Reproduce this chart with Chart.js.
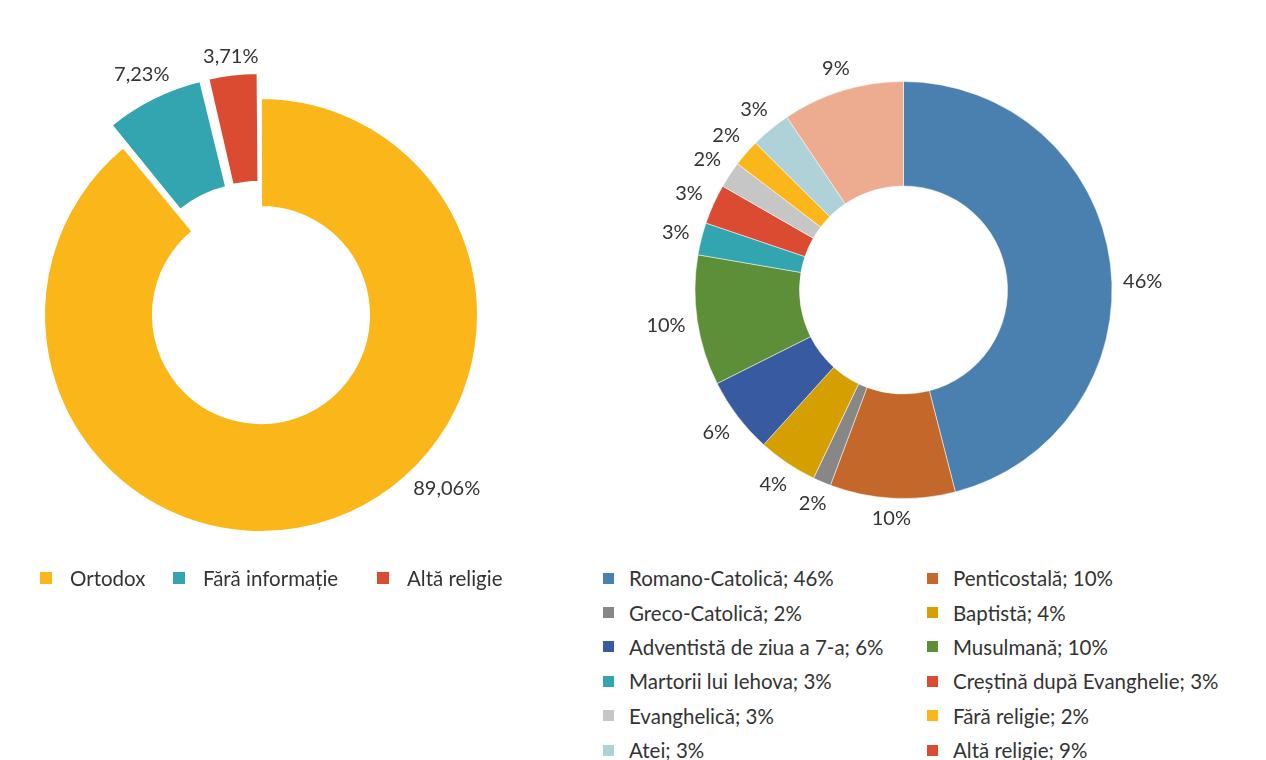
<!DOCTYPE html>
<html>
<head>
<meta charset="utf-8">
<script src="https://cdn.jsdelivr.net/npm/chart.js@4"></script>
<style>
  html, body { margin: 0; padding: 0; background: #fff; overflow: hidden; }
  body { width: 1266px; height: 760px; position: relative; font-family: Lato, "Open Sans", sans-serif; color: #333; }
  .box { position: absolute; }
  .legend { position: absolute; font-size: 20.5px; }
  .item { display: flex; align-items: center; white-space: nowrap; }
  .sw { width: 12px; height: 12px; margin-right: 18px; flex: none; }
  #legend-left { left: 40px; top: 566px; display: flex; }
  #legend-left .item:nth-child(1) { width: 133px; }
  #legend-left .item:nth-child(2) { width: 204px; }
  #legend-right { left: 603px; top: 561px; display: grid; grid-template-columns: 324px auto; grid-auto-rows: 34.4px; }
  #legend-right .sw { width: 11px; height: 11px; margin-right: 15px; }
</style>
</head>
<body>
<div class="box" style="left:0;top:0;width:560px;height:600px"><canvas id="left"></canvas></div>
<div class="box" style="left:600px;top:0;width:620px;height:560px"><canvas id="right"></canvas></div>
<div class="legend" id="legend-left"></div>
<div class="legend" id="legend-right"></div>
<script>
// left chart data
const leftCategories = ['Ortodox', 'Fără informație', 'Altă religie'];
const leftValues = [89.06, 7.23, 3.71];
const leftColors = ['#FBB71A', '#33A5B0', '#DB4B32'];

// right chart data
const rightCategories = ['Romano-Catolică', 'Penticostală', 'Greco-Catolică', 'Baptistă',
  'Adventistă de ziua a 7-a', 'Musulmană', 'Martorii lui Iehova', 'Creștină după Evanghelie',
  'Evanghelică', 'Fără religie', 'Atei', 'Altă religie'];
const rightValues = [46.0, 9.7, 1.4, 4.6, 5.9, 10.1, 2.5, 3.1, 2.05, 2.1, 3.1, 9.45];
const rightSliceLabels = ['46%', '10%', '2%', '4%', '6%', '10%', '3%', '3%', '2%', '2%', '3%', '9%'];
const rightLegendPct = [46, 10, 2, 4, 6, 10, 3, 3, 3, 2, 3, 9];
const rightColors = ['#4A80AF', '#C4672A', '#878787', '#D59F00', '#385AA0', '#5D8E38',
  '#33A5B0', '#DB4B32', '#C6C6C6', '#FBB71A', '#AFD2D8', '#EDAB90'];
// the legend marks the last entry in red, not in the slice colour
const rightLegendColors = rightColors.slice(0, 11).concat(['#DB4B32']);

const FONT = 'Lato, "Open Sans", sans-serif';

// draws the value labels outside each arc
const outsideLabels = {
  id: 'outsideLabels',
  afterDatasetsDraw(chart, args, opts) {
    const ctx = chart.ctx;
    const meta = chart.getDatasetMeta(0);
    ctx.save();
    ctx.font = opts.font;
    ctx.fillStyle = opts.color;
    ctx.textAlign = 'center';
    ctx.textBaseline = 'middle';
    meta.data.forEach((arc, i) => {
      const p = arc.getProps(['x', 'y', 'startAngle', 'endAngle', 'outerRadius', 'circumference'], true);
      let a = (p.startAngle + p.endAngle) / 2;
      if (opts.angles && opts.angles[i] !== undefined) {
        a = (opts.angles[i] - 90) * Math.PI / 180;
      }
      const text = opts.texts[i];
      const w = ctx.measureText(text).width;
      const h = opts.height;
      // chart.js moves an offset arc by offset/4 and grows it by offset/4 * fix
      const off = (arc.options.offset || 0) / 4;
      const fix = 1 - Math.sin(Math.min(Math.PI, p.circumference || 0));
      const shift = off * (1 + fix);
      const d = p.outerRadius + shift + opts.gap + Math.abs(Math.cos(a)) * w / 2 + Math.abs(Math.sin(a)) * h / 2;
      ctx.fillText(text, p.x + Math.cos(a) * d, p.y + Math.sin(a) * d);
    });
    ctx.restore();
  }
};

new Chart(document.getElementById('left'), {
  type: 'doughnut',
  data: {
    labels: leftCategories,
    datasets: [{
      data: leftValues,
      backgroundColor: leftColors,
      borderColor: '#fff',
      borderWidth: 2,
      offset: [0, 64, 57]
    }]
  },
  options: {
    responsive: true,
    maintainAspectRatio: false,
    animation: false,
    radius: 217,
    cutout: '49.8%',
    layout: { padding: { left: 0, right: 38, top: 30, bottom: 0 } },
    plugins: {
      legend: { display: false },
      tooltip: { enabled: false },
      outsideLabels: {
        texts: leftValues.map(v => v.toFixed(2).replace('.', ',') + '%'),
        font: '20px ' + FONT,
        color: '#333',
        height: 16,
        gap: 7,
        angles: { 0: 133 }
      }
    }
  },
  plugins: [outsideLabels]
});

new Chart(document.getElementById('right'), {
  type: 'doughnut',
  data: {
    labels: rightCategories,
    datasets: [{
      data: rightValues,
      backgroundColor: rightColors,
      borderColor: '#fff',
      borderWidth: 0.5
    }]
  },
  options: {
    responsive: true,
    maintainAspectRatio: false,
    animation: false,
    radius: 208.5,
    cutout: '49.9%',
    layout: { padding: { left: 0, right: 13, top: 20, bottom: 0 } },
    plugins: {
      legend: { display: false },
      tooltip: { enabled: false },
      outsideLabels: {
        texts: rightSliceLabels,
        font: '20px ' + FONT,
        color: '#333',
        height: 16,
        gap: 11,
        angles: { 0: 88 }
      }
    }
  },
  plugins: [outsideLabels]
});

// html legends
function buildLegend(el, names, colors) {
  names.forEach((name, i) => {
    const item = document.createElement('div');
    item.className = 'item';
    const sw = document.createElement('span');
    sw.className = 'sw';
    sw.style.background = colors[i];
    const t = document.createElement('span');
    t.textContent = name;
    item.appendChild(sw);
    item.appendChild(t);
    el.appendChild(item);
  });
}
buildLegend(document.getElementById('legend-left'), leftCategories, leftColors);
buildLegend(document.getElementById('legend-right'),
  rightCategories.map((c, i) => c + '; ' + rightLegendPct[i] + '%'), rightLegendColors);
</script>
</body>
</html>
